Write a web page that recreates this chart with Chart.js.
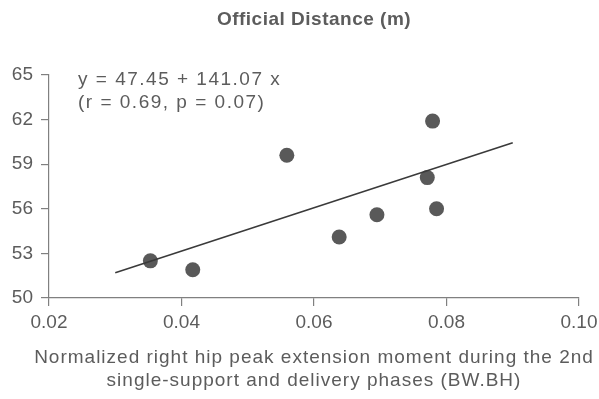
<!DOCTYPE html>
<html>
<head>
<meta charset="utf-8">
<script src="https://cdn.jsdelivr.net/npm/chart.js@4/dist/chart.umd.min.js"></script>
<style>
  html, body { margin: 0; padding: 0; background: #fff; }
  #wrap { width: 599px; height: 399px; }
</style>
</head>
<body>
<div id="wrap"><canvas id="myChart" width="599" height="399"></canvas></div>
<script>
// values
const momentX = [0.0353, 0.0417, 0.0559, 0.0638, 0.0695, 0.0771, 0.0779, 0.0785];
const distanceY = [52.5, 51.9, 59.6, 54.1, 55.6, 58.1, 61.9, 56.0];
const fitX = [0.030, 0.090];
const fitY = [51.7, 60.45];
const xTicks = [0.02, 0.04, 0.06, 0.08, 0.10];
const yTicks = [50, 53, 56, 59, 62, 65];

const chartTitle = "Official Distance (m)";
const fitText = ["y = 47.45 + 141.07 x", "(r = 0.69, p = 0.07)"];
const xTitle = ["Normalized right hip peak extension moment during the 2nd", "single-support and delivery phases (BW.BH)"];

const textColor = "#5c5c5c";
const axisColor = "#808080";
const fontFam = "'Liberation Sans', Arial, sans-serif";

// title, equation and x axis caption drawn on the canvas (scan text is a bit wide)
const textPlugin = {
  id: "textPlugin",
  afterDraw(chart) {
    const ctx = chart.ctx;
    const area = chart.chartArea;
    const cx = (area.left + area.right) / 2;
    ctx.save();
    ctx.fillStyle = textColor;
    ctx.textBaseline = "middle";
    ctx.textAlign = "center";
    ctx.letterSpacing = "0.5px";
    ctx.font = "bold 19px " + fontFam;
    ctx.fillText(chartTitle, cx, 20);
    ctx.font = "19px " + fontFam;
    ctx.letterSpacing = "1px";
    xTitle.forEach((t, i) => ctx.fillText(t, cx, 358 + i * 23));
    ctx.textAlign = "left";
    ctx.letterSpacing = "1.5px";
    fitText.forEach((t, i) => ctx.fillText(t, 78, 80 + i * 23));
    ctx.restore();
  }
};

const ctx = document.getElementById("myChart").getContext("2d");
const myChart = new Chart(ctx, {
  type: "scatter",
  data: {
    datasets: [
      {
        label: "fit",
        type: "line",
        data: fitX.map((x, i) => ({ x: x, y: fitY[i] })),
        borderColor: "#3a3a3a",
        borderWidth: 1.6,
        pointRadius: 0,
        fill: false,
      },
      {
        label: "athletes",
        data: momentX.map((x, i) => ({ x: x, y: distanceY[i] })),
        backgroundColor: "#595959",
        borderColor: "#595959",
        pointRadius: 7.5,
        borderWidth: 0,
      },
    ],
  },
  options: {
    responsive: false,
    animation: false,
    layout: { padding: { top: 75, right: 20, left: 0, bottom: 0 } },
    plugins: {
      legend: { display: false },
      tooltip: { enabled: false },
      title: { display: false },
    },
    scales: {
      x: {
        type: "linear",
        min: 0.02,
        max: 0.10,
        afterBuildTicks: (scale) => { scale.ticks = xTicks.map(v => ({ value: v })); },
        afterFit: (scale) => {
          scale.height = 101;
          scale.paddingLeft = 0;
          scale.paddingRight = 0;
        },
        grid: { display: true, drawOnChartArea: false, drawTicks: true, tickLength: 8, color: axisColor, lineWidth: 1.2 },
        border: { display: true, color: axisColor, width: 1.2 },
        ticks: {
          color: textColor,
          padding: 5,
          font: { family: fontFam, size: 19 },
          callback: (v) => v.toFixed(2),
          maxRotation: 0,
        },
      },
      y: {
        min: 50,
        max: 65,
        afterBuildTicks: (scale) => { scale.ticks = yTicks.map(v => ({ value: v })); },
        afterFit: (scale) => { scale.width = 49; },
        grid: { display: true, drawOnChartArea: false, drawTicks: true, tickLength: 8, color: axisColor, lineWidth: 1.2 },
        border: { display: true, color: axisColor, width: 1.2 },
        ticks: {
          color: textColor,
          padding: 8,
          font: { family: fontFam, size: 19 },
        },
      },
    },
  },
  plugins: [textPlugin],
});
</script>
</body>
</html>
